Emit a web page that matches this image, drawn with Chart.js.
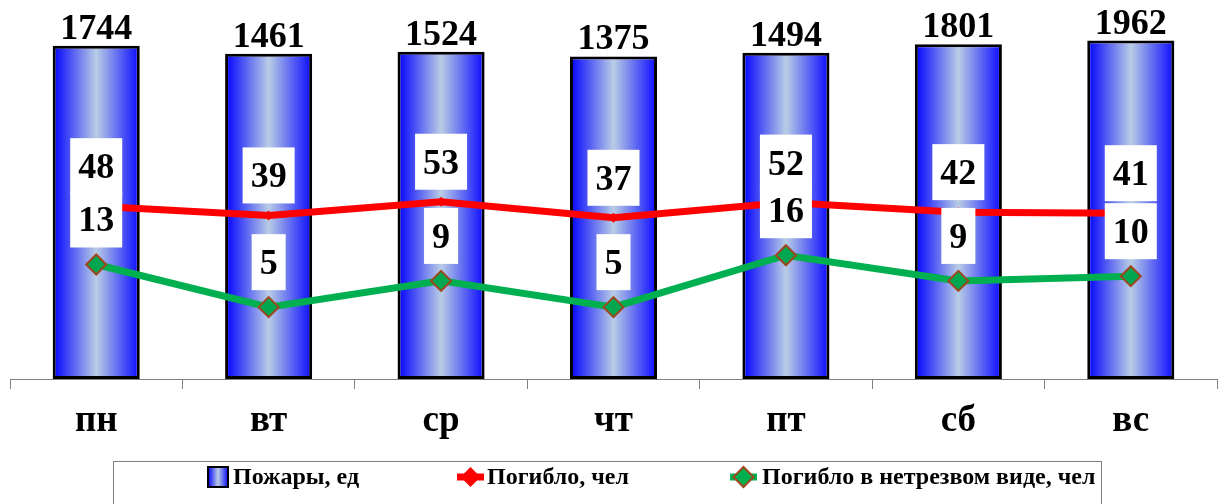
<!DOCTYPE html>
<html lang="ru">
<head>
<meta charset="UTF-8">
<title>Пожары по дням недели</title>
<script src="https://cdn.jsdelivr.net/npm/chart.js@4.4.1/dist/chart.umd.min.js"></script>
<style>
  html, body { margin: 0; padding: 0; background: #fff; }
  .chart-container { position: relative; width: 1226px; height: 504px; }
</style>
</head>
<body>
<div class="chart-container"><canvas id="chart"></canvas></div>
<script>
const days = ['пн', 'вт', 'ср', 'чт', 'пт', 'сб', 'вс'];
const fires = [1744, 1461, 1524, 1375, 1494, 1801, 1962];
const deaths = [48, 39, 53, 37, 52, 42, 41];
const drunkDeaths = [13, 5, 9, 5, 16, 9, 10];
const seriesNames = ['Пожары, ед', 'Погибло, чел', 'Погибло в нетрезвом виде, чел'];

const serif = '"Liberation Serif", "Times New Roman", serif';
const barShare = 0.505;
const green = '#00b050';
const brown = '#a0461e';

let blueGradient = (ctx, x0, x1) => {
  let g = ctx.createLinearGradient(x0, 0, x1, 0);
  g.addColorStop(0, '#0000ff');
  g.addColorStop(0.5, '#b9cde5');
  g.addColorStop(1, '#0a0aff');
  return g;
};

let barFill = c => {
  let chart = c.chart;
  let xs = chart.scales.x;
  if (!chart.chartArea || !xs || c.dataIndex === undefined) return '#0000ff';
  let cx = xs.getPixelForValue(c.dataIndex);
  let half = xs.width / days.length * barShare / 2;
  return blueGradient(chart.ctx, cx - half, cx + half);
};

// values above bars, white boxes over line points
const valueLabels = {
  id: 'valueLabels',
  afterDatasetsDraw(chart) {
    let ctx = chart.ctx;
    ctx.save();
    ctx.font = 'bold 36px ' + serif;
    ctx.fillStyle = '#000';
    ctx.textAlign = 'center';
    ctx.textBaseline = 'alphabetic';
    chart.getDatasetMeta(0).data.forEach((el, i) => {
      ctx.fillText(String(fires[i]), el.x, el.y - 7);
    });
    let boxes = [[1, deaths, 12], [2, drunkDeaths, 17]];
    boxes.forEach(([idx, vals, gap]) => {
      chart.getDatasetMeta(idx).data.forEach((el, i) => {
        let txt = String(vals[i]);
        let w = ctx.measureText(txt).width + 16;
        let h = 56;
        let bottom = el.y - gap;
        ctx.fillStyle = '#fff';
        ctx.fillRect(el.x - w / 2, bottom - h, w, h);
        ctx.fillStyle = '#000';
        ctx.fillText(txt, el.x, bottom - h / 2 + 12);
      });
    });
    ctx.restore();
  }
};

// framed legend under the axis
const boxLegend = {
  id: 'boxLegend',
  afterDraw(chart) {
    let ctx = chart.ctx;
    let cy = 477;
    ctx.save();
    ctx.strokeStyle = '#808080';
    ctx.lineWidth = 1;
    ctx.strokeRect(113.5, 461.5, 988, 60);

    ctx.fillStyle = blueGradient(ctx, 208, 228);
    ctx.fillRect(208, cy - 10, 20, 20);
    ctx.strokeStyle = '#000';
    ctx.lineWidth = 2;
    ctx.strokeRect(208, cy - 10, 20, 20);

    ctx.strokeStyle = '#ff0000';
    ctx.lineWidth = 7;
    ctx.beginPath(); ctx.moveTo(457, cy); ctx.lineTo(484, cy); ctx.stroke();
    ctx.fillStyle = '#ff0000';
    ctx.beginPath();
    ctx.moveTo(470.5, cy - 10); ctx.lineTo(480.5, cy); ctx.lineTo(470.5, cy + 10); ctx.lineTo(460.5, cy);
    ctx.closePath(); ctx.fill();

    ctx.strokeStyle = green;
    ctx.beginPath(); ctx.moveTo(730, cy); ctx.lineTo(757, cy); ctx.stroke();
    ctx.fillStyle = green;
    ctx.strokeStyle = brown;
    ctx.lineWidth = 2;
    ctx.beginPath();
    ctx.moveTo(743.5, cy - 10); ctx.lineTo(753.5, cy); ctx.lineTo(743.5, cy + 10); ctx.lineTo(733.5, cy);
    ctx.closePath(); ctx.fill(); ctx.stroke();

    ctx.fillStyle = '#000';
    ctx.font = 'bold 24px ' + serif;
    ctx.textAlign = 'left';
    ctx.textBaseline = 'middle';
    ctx.fillText(seriesNames[0], 233, cy + 1);
    ctx.fillText(seriesNames[1], 487, cy + 1);
    ctx.fillText(seriesNames[2], 762, cy + 1);
    ctx.restore();
  }
};

new Chart(document.getElementById('chart'), {
  type: 'bar',
  data: {
    labels: days,
    datasets: [
      {
        label: seriesNames[0],
        data: fires,
        backgroundColor: barFill,
        borderColor: '#000',
        borderWidth: 3,
        borderSkipped: false,
        barPercentage: barShare,
        categoryPercentage: 1,
        order: 3
      },
      {
        type: 'line',
        label: seriesNames[1],
        data: deaths,
        borderColor: '#ff0000',
        backgroundColor: '#ff0000',
        borderWidth: 7,
        pointStyle: 'rectRot',
        pointRadius: 5,
        pointBorderWidth: 0,
        order: 2
      },
      {
        type: 'line',
        label: seriesNames[2],
        data: drunkDeaths,
        borderColor: green,
        backgroundColor: green,
        borderWidth: 7,
        pointStyle: 'rectRot',
        pointRadius: 10,
        pointBackgroundColor: '#00a650',
        pointBorderColor: brown,
        pointBorderWidth: 2,
        order: 1
      }
    ]
  },
  options: {
    responsive: true,
    maintainAspectRatio: false,
    animation: false,
    layout: { autoPadding: false, padding: { left: 10, right: 9, top: 0, bottom: 0 } },
    plugins: {
      legend: { display: false },
      tooltip: { enabled: false }
    },
    scales: {
      x: {
        offset: true,
        grid: {
          offset: true,
          drawOnChartArea: false,
          drawTicks: true,
          tickLength: 10,
          color: '#808080'
        },
        border: { color: '#808080', width: 1 },
        ticks: {
          color: '#000',
          font: { family: serif, size: 37, weight: 'bold' },
          padding: 10,
          autoSkip: false,
          maxRotation: 0
        },
        afterFit: s => { s.height = 125; }
      },
      y: {
        type: 'logarithmic',
        display: false,
        min: 1,
        max: 4862
      }
    }
  },
  plugins: [valueLabels, boxLegend]
});
</script>
</body>
</html>
